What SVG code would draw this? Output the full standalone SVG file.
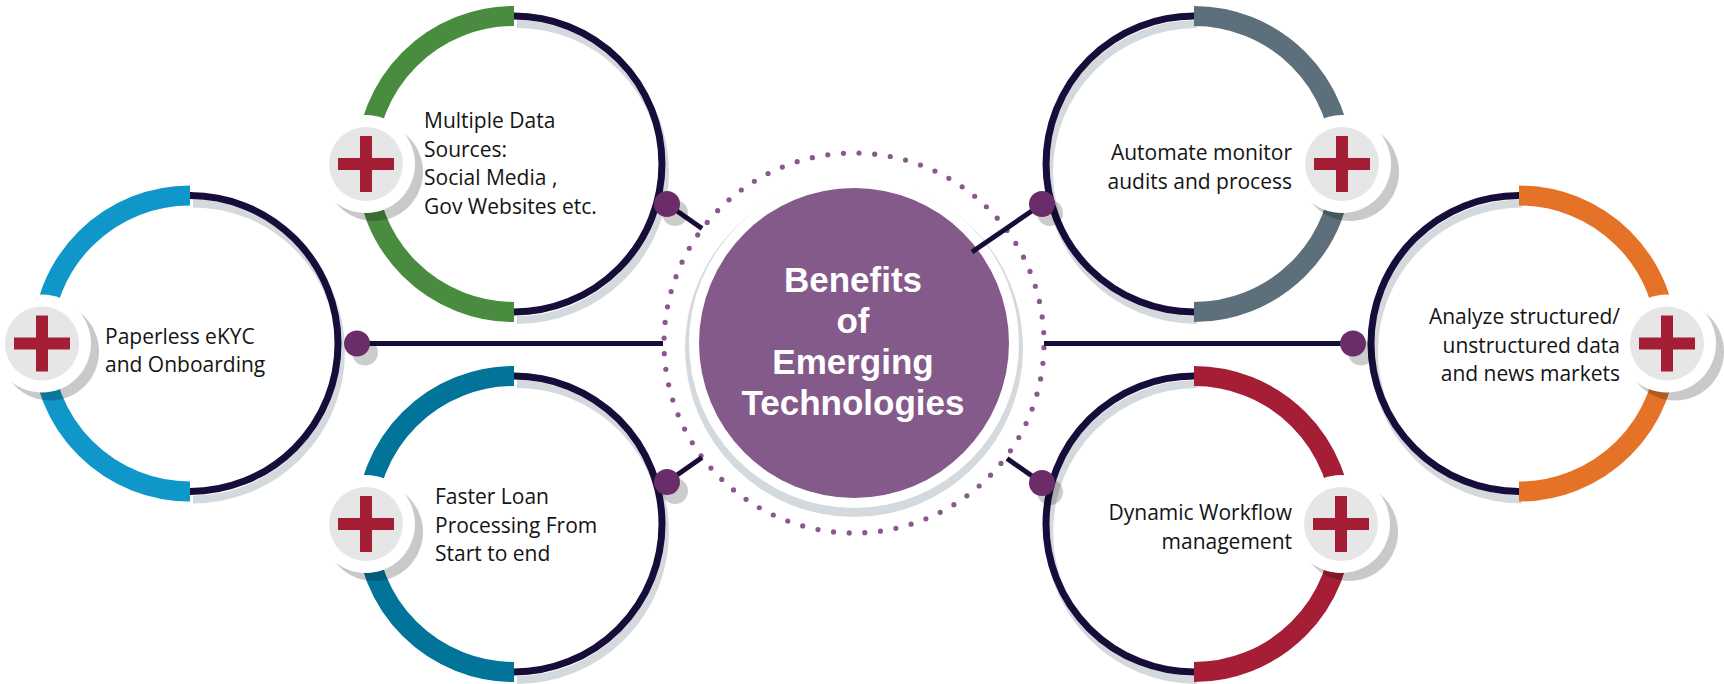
<svg xmlns="http://www.w3.org/2000/svg" width="1724" height="684" viewBox="0 0 1724 684">
<defs>
<style>
.dark{fill:none;stroke:#170d3a;stroke-width:7}
.shade{fill:none;stroke:#d4d9dd;stroke-width:8}
.col{fill:none;stroke-width:20}
.bshadow{fill:#000;opacity:0.21}
.bwhite{fill:#fff}
.binner{fill:#e6e6e6}
.plus{fill:#a41f35}
.lbl{font-family:"Open Sans","Noto Sans","Liberation Sans",sans-serif;font-size:21px;fill:#141414}
.ttl{font-family:"Liberation Sans",Arial,sans-serif;font-size:35px;font-weight:bold;fill:#fff;text-anchor:middle}
.cline{stroke:#170d3a;stroke-width:5;fill:none}
.cdot{fill:#6a2d6a}
.cshadow{fill:#000;opacity:0.2}
</style>
<g id="badge">
<circle class="bshadow" cx="8" cy="8" r="49"/>
<circle class="bwhite" cx="0" cy="0" r="49"/>
<circle class="binner" cx="0" cy="0" r="37"/>
<rect class="plus" x="-28" y="-6" width="56" height="12"/>
<rect class="plus" x="-6" y="-28" width="12" height="56"/>
</g>
</defs>
<rect width="1724" height="684" fill="#fff"/>

<g id="node-paperless">
<path class="shade" d="M193,203.5 A148,148 0 0 1 193,499.5"/>
<path class="dark" d="M190,195.5 A148,148 0 0 1 190,491.5"/>
<path class="col" stroke="#0f97c9" d="M190,195.5 A148,148 0 0 0 190,491.5"/>
<use href="#badge" x="42" y="343.5"/>
<text class="lbl" x="105" y="344">Paperless eKYC<tspan x="105" dy="28">and Onboarding</tspan></text>
</g>

<g id="node-datasources">
<path class="shade" d="M517,24 A148,148 0 0 1 517,320"/>
<path class="dark" d="M514,16 A148,148 0 0 1 514,312"/>
<path class="col" stroke="#4a8c3f" d="M514,16 A148,148 0 0 0 514,312"/>
<use href="#badge" x="366" y="164"/>
<text class="lbl" x="424" y="128">Multiple Data<tspan x="424" dy="28.5">Sources:</tspan><tspan x="424" dy="28.5">Social Media ,</tspan><tspan x="424" dy="28.5">Gov Websites etc.</tspan></text>
</g>

<g id="node-loan">
<path class="shade" d="M517,384 A148,148 0 0 1 517,680"/>
<path class="dark" d="M514,376 A148,148 0 0 1 514,672"/>
<path class="col" stroke="#037499" d="M514,376 A148,148 0 0 0 514,672"/>
<use href="#badge" x="366" y="524"/>
<text class="lbl" x="435" y="503.5">Faster Loan<tspan x="435" dy="29">Processing From</tspan><tspan x="435" dy="28.5">Start to end</tspan></text>
</g>

<g id="node-automate">
<path class="shade" d="M1197,24 A148,148 0 0 0 1197,320"/>
<path class="dark" d="M1194,16 A148,148 0 0 0 1194,312"/>
<path class="col" stroke="#5d6f7a" d="M1194,16 A148,148 0 0 1 1194,312"/>
<use href="#badge" x="1342" y="164"/>
<text class="lbl" x="1292" y="159.5" text-anchor="end">Automate monitor<tspan x="1292" dy="29">audits and process</tspan></text>
</g>

<g id="node-analyze">
<path class="shade" d="M1522,203.5 A148,148 0 0 0 1522,499.5"/>
<path class="dark" d="M1519,195.5 A148,148 0 0 0 1519,491.5"/>
<path class="col" stroke="#e47327" d="M1519,195.5 A148,148 0 0 1 1519,491.5"/>
<use href="#badge" x="1667" y="343.5"/>
<text class="lbl" x="1620" y="324" text-anchor="end">Analyze structured/<tspan x="1620" dy="28.5">unstructured data</tspan><tspan x="1620" dy="28.5">and news markets</tspan></text>
</g>

<g id="node-workflow">
<path class="shade" d="M1197,384 A148,148 0 0 0 1197,680"/>
<path class="dark" d="M1194,376 A148,148 0 0 0 1194,672"/>
<path class="col" stroke="#a51e36" d="M1194,376 A148,148 0 0 1 1194,672"/>
<use href="#badge" x="1341" y="524"/>
<text class="lbl" x="1292" y="520" text-anchor="end">Dynamic Workflow<tspan x="1292" dy="28.5">management</tspan></text>
</g>

<g id="node-center">
<circle cx="854" cy="348" r="169" fill="#d4d9dd"/>
<circle cx="854" cy="343" r="165" fill="#fff"/>
<circle cx="854" cy="343" r="155" fill="#845a8b"/>
<circle cx="854" cy="343" r="190" fill="none" stroke="#87598c" stroke-width="5.2" stroke-linecap="round" stroke-dasharray="0 15.708" stroke-dashoffset="-4.7"/>
<text class="ttl" x="853" y="292">Benefits<tspan x="853" dy="41">of</tspan><tspan x="853" dy="41">Emerging</tspan><tspan x="853" dy="41">Technologies</tspan></text>
</g>

<g id="connectors">
<line class="cline" x1="357" y1="343.5" x2="663" y2="343.5"/>
<line class="cline" x1="1044" y1="343.5" x2="1353" y2="343.5"/>
<line class="cline" x1="667" y1="204" x2="702" y2="228.5"/>
<line class="cline" x1="1042" y1="204" x2="972" y2="252"/>
<line class="cline" x1="667" y1="482" x2="702" y2="457.5"/>
<line class="cline" x1="1042" y1="483" x2="1007" y2="458.5"/>
<circle class="cshadow" cx="365" cy="352.5" r="13"/>
<circle class="cshadow" cx="1361" cy="352.5" r="13"/>
<circle class="cshadow" cx="675" cy="213" r="13"/>
<circle class="cshadow" cx="1050" cy="213" r="13"/>
<circle class="cshadow" cx="675" cy="491" r="13"/>
<circle class="cshadow" cx="1050" cy="492" r="13"/>
<circle class="cdot" cx="357" cy="343.5" r="13"/>
<circle class="cdot" cx="1353" cy="343.5" r="13"/>
<circle class="cdot" cx="667" cy="204" r="13"/>
<circle class="cdot" cx="1042" cy="204" r="13"/>
<circle class="cdot" cx="667" cy="482" r="13"/>
<circle class="cdot" cx="1042" cy="483" r="13"/>
</g>
</svg>
